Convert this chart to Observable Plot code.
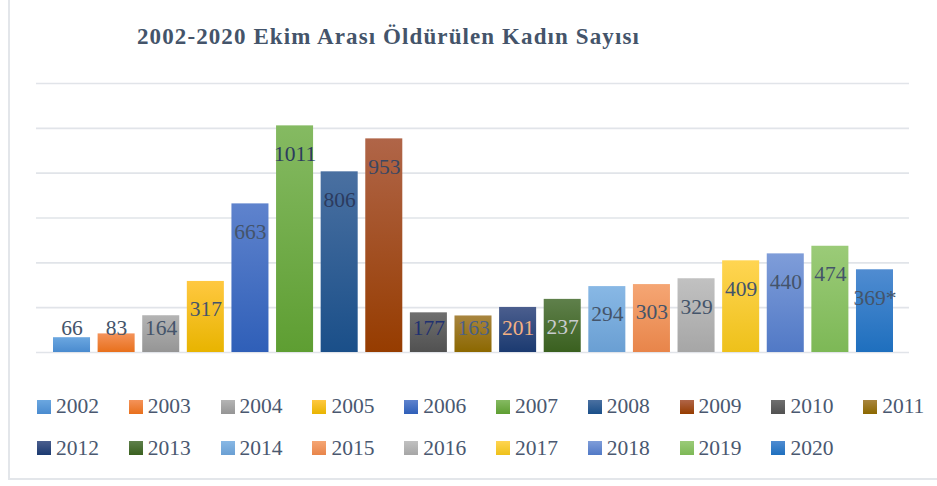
<!DOCTYPE html>
<html>
<head>
<meta charset="utf-8">
<script src="https://cdn.jsdelivr.net/npm/d3@7"></script>
<script src="https://cdn.jsdelivr.net/npm/@observablehq/plot@0.6"></script>
<style>
  html, body { margin: 0; padding: 0; background: #fff; }
  #frame { position: relative; width: 937px; height: 486px; overflow: hidden; font-family: "Liberation Serif", serif; }
  #border { position: absolute; left: 8px; top: -2px; width: 940px; height: 482px; border-left: 2px solid #e3e6ea; border-bottom: 2px solid #e3e6ea; box-sizing: border-box; }
  #title { position: absolute; left: 137px; top: 24px; font-size: 23px; font-weight: bold; color: #44546A; white-space: nowrap; letter-spacing: 1.1px; }
  #chart { position: absolute; left: 0; top: 0; }
  #legend { position: absolute; left: 37px; top: 386px; width: 930px; }
  .leg-swatches-wrap { display: flex !important; flex-wrap: wrap !important; min-height: 0 !important; margin: 0 !important; }
  .leg-swatch { width: 91.8px !important; margin: 0 !important; height: 41.5px !important; align-items: center; font-family: "Liberation Serif", serif !important; font-size: 21.5px !important; color: #4a5870 !important; }
  .leg-swatch > svg { margin-right: 5px !important; }
</style>
</head>
<body>
<div id="frame">
  <div id="border"></div>
  <div id="chart"></div>
  <div id="title">2002-2020 Ekim Arası Öldürülen Kadın Sayısı</div>
  <div id="legend"></div>
</div>
<script>
const years = ["2002","2003","2004","2005","2006","2007","2008","2009","2010","2011","2012","2013","2014","2015","2016","2017","2018","2019","2020"];
const values = [66, 83, 164, 317, 663, 1011, 806, 953, 177, 163, 201, 237, 294, 303, 329, 409, 440, 474, 369];
const labels = ["66","83","164","317","663","1011","806","953","177","163","201","237","294","303","329","409","440","474","369*"];
const topColors = ["#6ba7e0","#f4935a","#b4b4b4","#ffc840","#5f83cd","#85ba62","#4a70a1","#b06548","#6f6f6f","#a8853f","#4b5e8e","#5f804b","#88b8e5","#f5a674","#c1c1c1","#ffd552","#7f9dd9","#9bcb78","#508cd1"];
const bottomColors = ["#4a8bcf","#e8701c","#959595","#e8b400","#2f5fb8","#5e9e32","#1a4f89","#963c00","#515151","#8c6800","#1b3a70","#3a601f","#6a9fd3","#e8854a","#a6a6a6","#eec11a","#5179c6","#7db856","#1e6fbe"];
const labelColors = ["#44546a","#44546a","#44546a","#44546a","#44546a","#2c3b5e","#2c3b5e","#3a4763","#1f3070","#4a6189","#f4b183","#c9cccf","#44546a","#44546a","#44546a","#44546a","#44546a","#44546a","#44546a"];
const gridTicks = [0, 200, 400, 600, 800, 1000, 1200];

const data = years.map((y, i) => ({year: y, value: values[i], label: labels[i], lc: labelColors[i]}));
const fills = years.map(y => `url(#grad${y})`);

const plot = Plot.plot({
  width: 937,
  height: 370,
  marginTop: 83,
  marginBottom: 18,
  marginLeft: 36,
  marginRight: 28,
  x: {type: "band", domain: years, range: [53, 893], paddingInner: 0.17, paddingOuter: 0, round: false, axis: null},
  y: {domain: [0, 1200], axis: null},
  color: {type: "ordinal", domain: years, range: fills},
  marks: [
    Plot.ruleY(gridTicks, {stroke: "#e1e4e9", strokeWidth: 1.6}),
    Plot.barY(data, {x: "year", y: "value", fill: "year"}),
    Plot.text(data, {x: "year", y: d => Math.max(d.value, 232), dy: 28, text: "label", fill: "lc", fontSize: 21.5, fontFamily: "Liberation Serif"})
  ]
});
const defs = d3.select(plot).insert("defs", ":first-child");
years.forEach((y, i) => {
  const g = defs.append("linearGradient").attr("id", `grad${y}`).attr("x1", 0).attr("y1", 0).attr("x2", 0).attr("y2", 1);
  g.append("stop").attr("offset", "0%").attr("stop-color", topColors[i]);
  g.append("stop").attr("offset", "100%").attr("stop-color", bottomColors[i]);
});
document.getElementById("chart").appendChild(plot);

const legend = Plot.legend({
  color: {type: "ordinal", domain: years, range: fills},
  swatchSize: 14,
  className: "leg"
});
document.getElementById("legend").appendChild(legend);
</script>
</body>
</html>
